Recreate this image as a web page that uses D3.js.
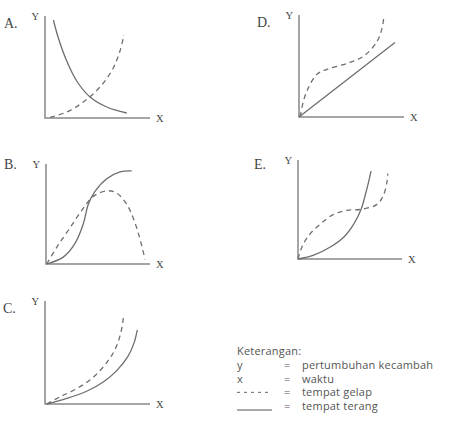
<!DOCTYPE html>
<html>
<head>
<meta charset="utf-8">
<script src="https://cdn.jsdelivr.net/npm/d3@7"></script>
<style>
  body { margin: 0; background: #fff; }
  svg { display: block; }
  .axis-line { stroke: #888; stroke-width: 1.5; fill: none; }
  .curve { fill: none; stroke: #6e6e6e; stroke-width: 1.3; }
  .curve.dark { stroke-dasharray: 5,4; }
  .plabel { font-family: "Liberation Serif", "DejaVu Serif", serif; fill: #444; }
  .legend { font-family: "Open Sans", "Noto Sans", sans-serif; font-size: 11px; fill: #555; letter-spacing: 0.2px; }
</style>
</head>
<body>
<div id="chart"></div>
<script>
// panel letters, in drawing order
var panels = ["A", "B", "C", "D", "E"]

// curve values, x and y on a 0..100 scale
// terang = solid line (tempat terang), gelap = dashed line (tempat gelap)
var terangA = [[8,98],[12.7,80],[20.7,57],[30.2,37],[42.9,21],[58.8,11],[77.8,5]]
var gelapA  = [[4.8,0.7],[20.7,6],[36.5,16],[52.4,31],[65,50],[71.4,67],[75.2,83]]

var terangB = [[0.7,0],[16.6,7],[27.9,21],[35.9,41],[40.7,61],[47.1,74],[58.4,87],[71.2,94],[82.4,95]]
var gelapB  = [[0.7,0],[10.3,17],[23.1,37],[35.9,57],[45.5,69],[58.4,74.7],[68,72.3],[77.6,61],[87.2,37],[95.2,4.7]]

var terangC = [[1.6,0],[20.7,5.5],[39.7,12.6],[55.5,21.7],[68.3,33],[79.3,47.6],[84.8,60.5],[87.9,73.5]]
var gelapC  = [[1.6,0],[14.3,7.1],[30.2,15.2],[46,26.5],[58.8,41],[66.7,54],[72.1,70],[74.6,85]]

var terangD = [[0,0],[91.4,74.5]]
var gelapD  = [[1.2,0.3],[4.4,16.7],[9.2,29.7],[17.1,42.8],[26.7,47.7],[45.7,53.6],[61.6,60.8],[74.3,75.5],[79,88.5],[80.7,99]]

var terangE = [[0,0],[15.1,4],[31.1,12.4],[43.9,22.5],[53.6,36],[60.6,51],[64.7,66],[68,80],[70.2,90.6]]
var gelapE  = [[0,0],[3.8,12.4],[10.3,24.2],[21.4,36],[34.3,46],[47.1,50.2],[60.6,51.2],[76,56.3],[82.4,66.4],[85.6,80],[86.3,88]]

var legendKeys = ["y", "x", "", ""]
var legendTexts = ["pertumbuhan kecambah", "waktu", "tempat gelap", "tempat terang"]

var series = {
  A: {terang: terangA, gelap: gelapA},
  B: {terang: terangB, gelap: gelapB},
  C: {terang: terangC, gelap: gelapC},
  D: {terang: terangD, gelap: gelapD},
  E: {terang: terangE, gelap: gelapE}
}

// where each little plot sits: origin, end of x axis, top of y axis, letter spot
var layout = {
  A: {ox: 45, oy: 118, xe: 150, yt: 16, lx: 4, ly: 28},
  B: {ox: 46, oy: 264, xe: 150, yt: 164, lx: 4, ly: 169},
  C: {ox: 45, oy: 404, xe: 150, yt: 301, lx: 3, ly: 313},
  D: {ox: 299, oy: 117, xe: 404, yt: 15, lx: 257, ly: 27},
  E: {ox: 298, oy: 259, xe: 402, yt: 160, lx: 254, ly: 169}
}

var width = 474, height = 425

var svg = d3.select("#chart").append("svg")
  .attr("width", width)
  .attr("height", height)

panels.forEach(function(p) {
  var L = layout[p]
  var x = d3.scaleLinear().domain([0, 100]).range([L.ox, L.xe])
  var y = d3.scaleLinear().domain([0, 100]).range([L.oy, L.yt + 2])
  var g = svg.append("g").attr("class", "panel-" + p)

  // the two bare axes, no ticks
  g.append("path")
    .attr("class", "axis-line")
    .attr("d", "M" + x(0) + "," + L.yt + "V" + y(0) + "H" + x(100))

  var line = d3.line()
    .x(function(d) { return x(d[0]) })
    .y(function(d) { return y(d[1]) })
    .curve(d3.curveCatmullRom.alpha(0.5))

  g.append("path").datum(series[p].terang)
    .attr("class", "curve light")
    .attr("d", line)
  g.append("path").datum(series[p].gelap)
    .attr("class", "curve dark")
    .attr("d", line)

  g.append("text").attr("class", "plabel")
    .attr("x", L.lx).attr("y", L.ly)
    .style("font-size", "14px")
    .text(p + ".")
  g.append("text").attr("class", "plabel")
    .attr("x", L.ox - 6).attr("y", L.yt + 4)
    .attr("text-anchor", "end")
    .style("font-size", "10.5px")
    .text("Y")
  g.append("text").attr("class", "plabel")
    .attr("x", L.xe + 6).attr("y", L.oy + 4)
    .style("font-size", "10.5px")
    .text("X")
})

// legend
var lg = svg.append("g").attr("class", "legend-box")
lg.append("text").attr("class", "legend")
  .attr("x", 237).attr("y", 355)
  .text("Keterangan:")

var rowY = d3.scaleLinear().domain([0, 3]).range([369, 410])

legendTexts.forEach(function(t, i) {
  var yy = rowY(i)
  if (legendKeys[i]) {
    lg.append("text").attr("class", "legend")
      .attr("x", 237).attr("y", yy).text(legendKeys[i])
  } else if (i == 2) {
    lg.append("line")
      .attr("x1", 237).attr("x2", 268).attr("y1", yy - 4).attr("y2", yy - 4)
      .style("stroke", "#666").style("stroke-width", 1).style("stroke-dasharray", "3,4")
  } else {
    lg.append("line")
      .attr("x1", 237).attr("x2", 272).attr("y1", yy).attr("y2", yy)
      .style("stroke", "#555").style("stroke-width", 1)
  }
  lg.append("text").attr("class", "legend")
    .attr("x", 284).attr("y", yy).text("=")
  lg.append("text").attr("class", "legend")
    .attr("x", 302).attr("y", yy).text(t)
})
</script>
</body>
</html>
